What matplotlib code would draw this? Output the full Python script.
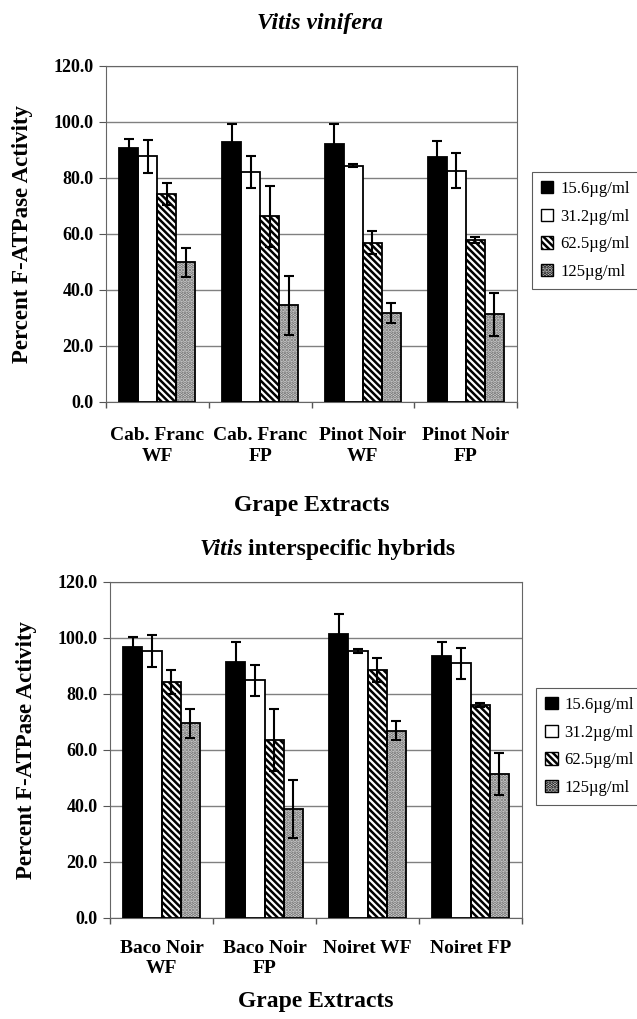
import matplotlib.pyplot as plt
import numpy as np

plt.rcParams['font.family'] = ['Liberation Serif', 'DejaVu Serif']
plt.rcParams['hatch.linewidth'] = 1.8

concs = ['15.6\u00b5g/ml', '31.2\u00b5g/ml', '62.5\u00b5g/ml', '125\u00b5g/ml']

# Vitis vinifera
top_labels = ['Cab. Franc\nWF', 'Cab. Franc\nFP', 'Pinot Noir\nWF', 'Pinot Noir\nFP']
top_vals = [[90.7, 92.7, 92.3, 87.4],
            [87.7, 82.1, 84.4, 82.6],
            [74.2, 66.3, 56.9, 57.9],
            [49.9, 34.5, 31.8, 31.3]]
top_err = [[3.3, 6.6, 7.0, 5.7],
           [5.8, 5.6, 0.5, 6.2],
           [4.0, 11.0, 4.1, 1.0],
           [5.1, 10.5, 3.7, 7.6]]

# Vitis interspecific hybrids
bot_labels = ['Baco Noir\nWF', 'Baco Noir\nFP', 'Noiret WF', 'Noiret FP']
bot_vals = [[96.9, 91.6, 101.4, 93.4],
            [95.3, 84.9, 95.3, 91.0],
            [84.3, 63.6, 88.5, 76.0],
            [69.5, 38.9, 66.9, 51.3]]
bot_err = [[3.5, 7.1, 7.0, 5.2],
           [5.6, 5.6, 0.7, 5.5],
           [4.2, 11.1, 4.2, 0.8],
           [5.3, 10.3, 3.3, 7.5]]

faces = ['black', 'white', 'white', '#dedede']
hatches = [None, None, '\\\\\\\\\\', '.....']
hatch_cols = ['black', 'black', 'black', '#666666']

fig = plt.figure(figsize=(6.37, 10.19), dpi=100)
ax1 = fig.add_axes([106 / 637, 1 - 402 / 1019, 411 / 637, 336 / 1019])
ax2 = fig.add_axes([110 / 637, 1 - 918 / 1019, 412 / 637, 336 / 1019])


def draw(ax, labels, vals, errs, legend_pos, tick_pad, xlab_pad, lsp):
    x = np.arange(len(labels))
    w = 0.185
    for i in range(4):
        pos = x + (i - 1.5) * w
        # fill + hatch first, then a black outline on top
        ax.bar(pos, vals[i], w, color=faces[i], edgecolor=hatch_cols[i],
               hatch=hatches[i], linewidth=0, zorder=3)
        ax.bar(pos, vals[i], w, color='none', edgecolor='black',
               linewidth=1.3, zorder=3.5)
        ax.errorbar(pos, vals[i], yerr=errs[i], fmt='none', ecolor='black',
                    elinewidth=1.5, capsize=3.5, capthick=1.5, zorder=4)
    ax.set_ylim(0, 120)
    ax.set_xlim(-0.5, len(labels) - 0.5)
    ax.set_yticks(np.arange(0, 121, 20))
    ax.set_yticklabels(['%.1f' % v for v in np.arange(0, 121, 20)],
                       fontsize=13, fontweight='bold')
    ax.yaxis.grid(True, color='#808080', linewidth=1, zorder=0)
    ax.set_axisbelow(True)
    ax.set_xticks(x)
    ax.set_xticklabels(labels, fontsize=14, fontweight='bold', linespacing=lsp)
    ax.tick_params(axis='x', length=0, pad=tick_pad)
    ax.set_xticks(np.arange(-0.5, len(labels), 1), minor=True)
    ax.tick_params(axis='x', which='minor', length=4.5, width=1, color='#555555')
    ax.tick_params(axis='y', length=5, pad=4, color='#555555')
    for s in ax.spines.values():
        s.set_color('#666666')
    ax.set_ylabel('Percent F-ATPase Activity', fontsize=16.5, fontweight='bold', labelpad=15)
    ax.set_xlabel('Grape Extracts', fontsize=17, fontweight='bold', labelpad=xlab_pad)
    leg = ax.legend(handles=[
        plt.Rectangle((0, 0), 1, 1, facecolor=faces[i], edgecolor='black',
                      hatch=hatches[i], linewidth=1) for i in range(4)],
        labels=concs, loc='upper left', bbox_to_anchor=legend_pos,
        fontsize=12, frameon=True, fancybox=False, edgecolor='#333333',
        handlelength=0.75, handleheight=0.75, handletextpad=0.4,
        labelspacing=0.7, borderpad=0.55, borderaxespad=0)
    leg.get_frame().set_linewidth(0.8)


draw(ax1, top_labels, top_vals, top_err, (1.036, 0.685), 18, 22, 1.3)
draw(ax2, bot_labels, bot_vals, bot_err, (1.034, 0.685), 16, 10, 1.2)

fig.text(0.503, 1 - 29 / 1019, 'Vitis vinifera', fontsize=17, fontweight='bold',
         style='italic', ha='center', va='baseline')
fig.text(243 / 637, 1 - 555 / 1019, 'Vitis', fontsize=17, fontweight='bold',
         style='italic', ha='right', va='baseline')
fig.text(248 / 637, 1 - 555 / 1019, 'interspecific hybrids', fontsize=17,
         fontweight='bold', ha='left', va='baseline')

fig.savefig('out.png', dpi=100)
